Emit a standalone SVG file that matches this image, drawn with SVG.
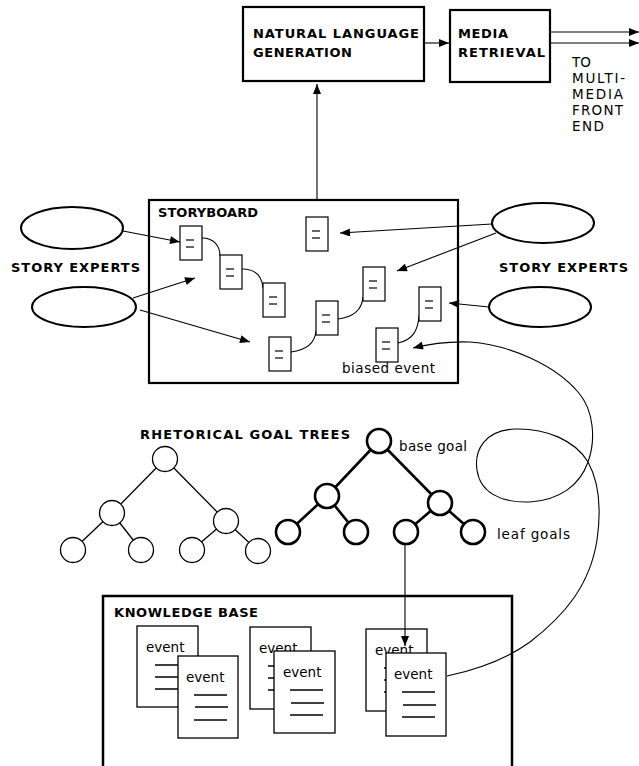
<svg xmlns="http://www.w3.org/2000/svg" width="639" height="766" viewBox="0 0 639 766">
<defs>
<style>
.box{fill:#fff;stroke:#000;stroke-width:2.2}
.lbl{font-family:"DejaVu Sans","Liberation Sans",sans-serif;font-weight:bold;font-size:13px;fill:#000}
.txt{font-family:"DejaVu Sans","Liberation Sans",sans-serif;font-size:13.5px;fill:#000}
.ell{fill:#fff;stroke:#000;stroke-width:2}
.doc{fill:#fff;stroke:#000;stroke-width:1.2}
.dash{stroke:#000;stroke-width:1.2}
.card{fill:#fff;stroke:#000;stroke-width:1.3}
.cl{stroke:#000;stroke-width:1.5}
.con{fill:none;stroke:#000;stroke-width:1.1}
.tn{fill:#fff;stroke:#000;stroke-width:1.3}
.tt{fill:#fff;stroke:#000;stroke-width:2.6}
</style>
<marker id="ah" viewBox="0 0 10 8" refX="10" refY="4" markerWidth="11" markerHeight="8" orient="auto" markerUnits="userSpaceOnUse"><path d="M0,0 L10,4 L0,8 z" fill="#000"/></marker>
<g id="docsym"><rect class="doc" x="0" y="0" width="22" height="34"/><line class="dash" x1="6" y1="14" x2="14" y2="14"/><line class="dash" x1="6" y1="21" x2="14" y2="21"/></g>
</defs>
<rect width="639" height="766" fill="#fff"/>

<g id="connectors">
<line class="con" x1="424" y1="43" x2="449" y2="43" marker-end="url(#ah)"/>
<line class="con" x1="550" y1="32" x2="639" y2="32" marker-end="url(#ah)"/>
<line class="con" x1="550" y1="43" x2="639" y2="43" marker-end="url(#ah)"/>
<line class="con" x1="317" y1="200" x2="317" y2="84" marker-end="url(#ah)"/>
<line class="con" x1="123" y1="231" x2="180" y2="242" marker-end="url(#ah)"/>
<line class="con" x1="133" y1="298" x2="195" y2="278" marker-end="url(#ah)"/>
<line class="con" x1="140" y1="310" x2="250" y2="342" marker-end="url(#ah)"/>
<line class="con" x1="492" y1="224" x2="340" y2="233" marker-end="url(#ah)"/>
<line class="con" x1="496" y1="233" x2="397" y2="271" marker-end="url(#ah)"/>
<line class="con" x1="489" y1="307" x2="449" y2="303" marker-end="url(#ah)"/>
<path class="con" d="M202,238 C213,238 220,245 220,256"/>
<path class="con" d="M242,269 C255,269 262,276 263,288"/>
<path class="con" d="M291,352 C306,350 315,343 316,331"/>
<path class="con" d="M338,319 C354,317 362,310 363,297"/>
<path class="con" d="M398,343 C413,340 418,330 419,316"/>
<path class="con" d="M447,676 C475,670 505,660 530,642 C565,615 590,585 597,540 C602,505 598,480 588,462 C575,440 545,428 515,429 C485,430 474,450 477,470 C480,492 500,503 530,502 C560,500 580,485 588,462 C596,440 594,410 578,392 C555,365 510,345 470,342 C445,341 425,345 413,348" marker-end="url(#ah)"/>
</g>

<g id="nlg">
<rect class="box" x="243" y="7" width="181" height="74"/>
<text class="lbl" x="253" y="38" textLength="166" lengthAdjust="spacing">NATURAL LANGUAGE</text>
<text class="lbl" x="253" y="57" textLength="99" lengthAdjust="spacing">GENERATION</text>
</g>
<g id="media">
<rect class="box" x="450" y="10" width="100" height="72"/>
<text class="lbl" x="458" y="38" textLength="50" lengthAdjust="spacing">MEDIA</text>
<text class="lbl" x="458" y="57" textLength="87" lengthAdjust="spacing">RETRIEVAL</text>
</g>
<g id="frontend-label" class="txt">
<text x="572" y="67">TO</text>
<text x="572" y="83" textLength="53" lengthAdjust="spacing">MULTI-</text>
<text x="572" y="99" textLength="51" lengthAdjust="spacing">MEDIA</text>
<text x="572" y="115" textLength="51" lengthAdjust="spacing">FRONT</text>
<text x="572" y="131" textLength="32" lengthAdjust="spacing">END</text>
</g>

<g id="storyboard">
<rect x="149" y="200" width="309" height="183" fill="none" stroke="#000" stroke-width="2.2"/>
<text class="lbl" x="158" y="217" textLength="100" lengthAdjust="spacing">STORYBOARD</text>
<use href="#docsym" x="180" y="226"/>
<use href="#docsym" x="220" y="255"/>
<use href="#docsym" x="263" y="283"/>
<use href="#docsym" x="306" y="217"/>
<use href="#docsym" x="363" y="267"/>
<use href="#docsym" x="316" y="301"/>
<use href="#docsym" x="269" y="337"/>
<use href="#docsym" x="419" y="287"/>
<use href="#docsym" x="376" y="328"/>
<text class="txt" x="342" y="373" textLength="93" lengthAdjust="spacing">biased event</text>
</g>

<g id="experts-left">
<ellipse class="ell" cx="72" cy="228" rx="51" ry="21"/>
<ellipse class="ell" cx="84" cy="307" rx="52" ry="20"/>
<text class="lbl" x="11" y="272" textLength="129" lengthAdjust="spacing">STORY EXPERTS</text>
</g>
<g id="experts-right">
<ellipse class="ell" cx="543" cy="223" rx="51" ry="20"/>
<ellipse class="ell" cx="540" cy="307" rx="51" ry="20"/>
<text class="lbl" x="499" y="272" textLength="129" lengthAdjust="spacing">STORY EXPERTS</text>
</g>

<g id="goal-tree-left">
<text class="lbl" x="140" y="439" textLength="210" lengthAdjust="spacing">RHETORICAL GOAL TREES</text>
<g stroke="#000" stroke-width="1.3">
<line x1="165" y1="459" x2="112" y2="513"/><line x1="165" y1="459" x2="226" y2="521"/>
<line x1="112" y1="513" x2="73" y2="550"/><line x1="112" y1="513" x2="141" y2="550"/>
<line x1="226" y1="521" x2="192" y2="550"/><line x1="226" y1="521" x2="258" y2="551"/>
</g>
<circle class="tn" cx="165" cy="459" r="12.5"/>
<circle class="tn" cx="112" cy="513" r="12.5"/>
<circle class="tn" cx="226" cy="521" r="12.5"/>
<circle class="tn" cx="73" cy="550" r="12.5"/>
<circle class="tn" cx="141" cy="550" r="12.5"/>
<circle class="tn" cx="192" cy="550" r="12.5"/>
<circle class="tn" cx="258" cy="551" r="12.5"/>
</g>

<g id="goal-tree-right">
<g stroke="#000" stroke-width="2.6">
<line x1="379" y1="441" x2="327" y2="496"/><line x1="379" y1="441" x2="440" y2="503"/>
<line x1="327" y1="496" x2="288" y2="532"/><line x1="327" y1="496" x2="356" y2="532"/>
<line x1="440" y1="503" x2="406" y2="532"/><line x1="440" y1="503" x2="473" y2="532"/>
</g>
<circle class="tt" cx="379" cy="441" r="12"/>
<circle class="tt" cx="327" cy="496" r="12"/>
<circle class="tt" cx="440" cy="503" r="12"/>
<circle class="tt" cx="288" cy="532" r="12"/>
<circle class="tt" cx="356" cy="532" r="12"/>
<circle class="tt" cx="406" cy="532" r="12"/>
<circle class="tt" cx="473" cy="532" r="12"/>
<text class="txt" x="399" y="451" textLength="68" lengthAdjust="spacing">base goal</text>
<text class="txt" x="497" y="539" textLength="73" lengthAdjust="spacing">leaf goals</text>
</g>

<g id="knowledge-base">
<path d="M103,770 L103,596 L512,596 L512,770" fill="none" stroke="#000" stroke-width="2.5"/>
<text class="lbl" x="114" y="617" textLength="144" lengthAdjust="spacing">KNOWLEDGE BASE</text>
</g>

<g id="event-group-1">
<rect class="card" x="137" y="626" width="61" height="81"/>
<text class="txt" x="146" y="652">event</text>
<line class="cl" x1="155" y1="665" x2="188" y2="665"/><line class="cl" x1="155" y1="677" x2="188" y2="677"/><line class="cl" x1="155" y1="689" x2="188" y2="689"/>
<rect class="card" x="178" y="656" width="60" height="82"/>
<text class="txt" x="186" y="682">event</text>
<line class="cl" x1="194" y1="695" x2="227" y2="695"/><line class="cl" x1="195" y1="707" x2="228" y2="707"/><line class="cl" x1="194" y1="720" x2="227" y2="720"/>
</g>
<g id="event-group-2">
<rect class="card" x="250" y="627" width="61" height="82"/>
<text class="txt" x="259" y="653">event</text>
<line class="cl" x1="268" y1="666" x2="300" y2="666"/><line class="cl" x1="268" y1="678" x2="300" y2="678"/><line class="cl" x1="268" y1="690" x2="300" y2="690"/>
<rect class="card" x="274" y="651" width="61" height="82"/>
<text class="txt" x="283" y="677">event</text>
<line class="cl" x1="290" y1="690" x2="323" y2="690"/><line class="cl" x1="291" y1="703" x2="324" y2="703"/><line class="cl" x1="290" y1="715" x2="323" y2="715"/>
</g>
<g id="event-group-3">
<rect class="card" x="366" y="629" width="61" height="82"/>
<text class="txt" x="375" y="655">event</text>
<line class="cl" x1="384" y1="668" x2="416" y2="668"/><line class="cl" x1="384" y1="680" x2="416" y2="680"/><line class="cl" x1="384" y1="692" x2="416" y2="692"/>
<rect class="card" x="386" y="653" width="60" height="83"/>
<text class="txt" x="394" y="679">event</text>
<line class="cl" x1="402" y1="692" x2="435" y2="692"/><line class="cl" x1="403" y1="705" x2="436" y2="705"/><line class="cl" x1="402" y1="717" x2="435" y2="717"/>
</g>
<g id="connector-leaf-to-event">
<line class="con" x1="405" y1="545" x2="405" y2="646" marker-end="url(#ah)"/>
</g>
</svg>
